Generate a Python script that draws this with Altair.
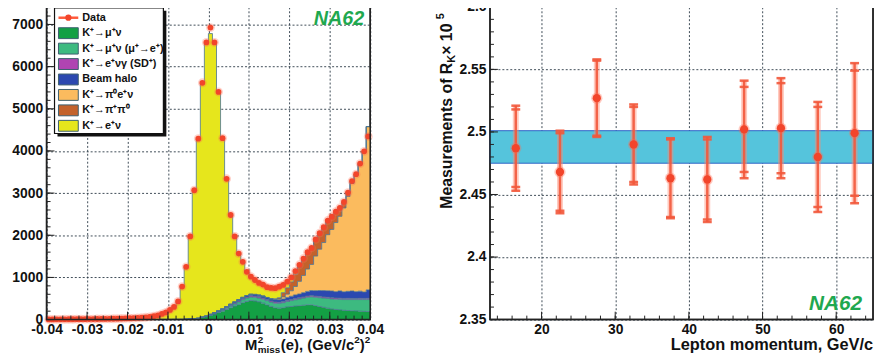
import altair as alt
import pandas as pd

FONT = "Liberation Sans"

# ---------------- left panel: M^2_miss(e) distribution ----------------
X_MIN, X_MAX, BIN_W, N_BINS = -0.040, 0.040, 0.001, 80

data_counts = [5, 5, 6, 6, 7, 8, 8, 9, 10, 10, 12, 12, 14, 15, 17, 18, 20, 22, 25, 28, 32, 36, 42, 48,
               55, 65, 80, 100, 134, 171, 230, 300, 430, 782, 1252, 1972, 3068, 4290, 5617, 6573,
               6925, 6573, 5399, 4303, 3340, 2481, 1972, 1565, 1369, 1134,
               1017, 939, 870, 830, 770, 750, 744, 780, 822, 900, 1000, 1150, 1300, 1448, 1600,
               1700, 1900, 2050, 2190, 2350, 2440, 2560, 2650, 2790, 3012, 3286, 3450, 3700, 3991, 4343]

mu_nu = [0] * 34 + [5, 10, 15, 25, 50, 70, 100, 130, 165, 200, 240, 280, 320, 360, 400, 430,
                    450, 440, 420, 390, 350, 310, 280, 270, 280, 300, 310, 320, 330, 340, 350,
                    350, 330, 310, 290, 270, 250, 240, 230, 220, 215, 210, 205, 200, 195, 190]
mu_nu_mue = [0] * 40 + [5, 10, 15, 20, 30, 40, 50, 60, 70, 80,
                        85, 90, 90, 95, 100, 105, 110, 115, 120, 130, 140, 150, 160, 170, 180,
                        190, 200, 210, 220, 230, 240, 245, 250, 255, 260, 265, 270, 275, 280, 285]
sd_plus = [0] * 38 + [3, 5, 8, 10, 12, 15, 18, 20, 22, 24, 25, 26,
                      28, 27, 29, 28, 26, 28, 30, 27, 28, 29, 28, 30, 27, 28, 29,
                      28, 27, 30, 28, 29, 28, 27, 29, 28, 30, 28, 27, 29, 28, 30]
beam_halo = [3, 2, 4, 3, 3, 4, 2, 3, 4, 3, 3, 4, 3, 2, 4, 3, 3, 4, 3, 3, 4, 3, 4, 3, 4, 4, 5, 4, 5, 5,
             5, 6, 6, 7, 8, 8, 9, 10, 10, 12, 14, 16, 18, 20, 22, 25, 28, 30, 32, 35,
             38, 40, 42, 45, 48, 50, 52, 55, 60, 65, 75, 85, 90, 100, 110,
             120, 130, 140, 150, 155, 160, 150, 170, 155, 165, 175, 160, 170, 150, 200]
pi0_e_nu = [0] * 56 + [10, 20, 50, 80, 130, 200, 300, 410, 530, 620, 820, 980, 1140, 1330,
                       1460, 1640, 1770, 1990, 2250, 2550, 2760, 3010, 3330, 3870]
pi_pi0 = [0] * 56 + [10, 30, 100, 150, 210, 290, 340, 360, 370, 370, 380, 370, 350, 330,
                     300, 250, 200, 140, 90, 55, 25, 15, 7, 3]
e_nu = [2, 3, 2, 3, 4, 4, 5, 6, 6, 7, 9, 9, 11, 12, 13, 15, 17, 19, 22, 25, 28, 33, 38, 44,
        50, 60, 76, 96, 130, 166,
        225, 294, 424, 770, 1240, 1950, 3040, 4250, 5550, 6480, 6657, 6410, 5190, 4050, 3030,
        2120, 1550, 1090, 840, 560,
        415, 340, 290, 270, 245, 250, 255, 262, 180, 150, 110, 80, 55, 40, 30,
        20, 15, 10, 8, 6, 5, 4, 4, 3, 3, 2, 2, 2, 1, 1]

comp_names = ["K⁺→μ⁺ν", "K⁺→μ⁺ν (μ⁺→e⁺)", "K⁺→e⁺νγ (SD⁺)", "Beam halo",
              "K⁺→π⁰e⁺ν", "K⁺→π⁺π⁰", "K⁺→e⁺ν"]
comp_colors = ["#13a044", "#3dba80", "#b044b2", "#2b48b0", "#fbbb5e", "#c3622b", "#e6e61c"]
comp_values = [mu_nu, mu_nu_mue, sd_plus, beam_halo, pi0_e_nu, pi_pi0, e_nu]

x_major_left = [-0.04, -0.03, -0.02, -0.01, 0.0, 0.01, 0.02, 0.03, 0.04]
y_major_left = [0, 1000, 2000, 3000, 4000, 5000, 6000, 7000]

# ---------------- right panel: R_K vs lepton momentum ----------------
lep_p = [16.5, 22.5, 27.5, 32.5, 37.5, 42.5, 47.5, 52.5, 57.5, 62.5]
rk = [2.487, 2.468, 2.527, 2.490, 2.463, 2.462, 2.502, 2.503, 2.480, 2.499]
err_stat = [0.031, 0.031, 0.030, 0.030, 0.031, 0.032, 0.034, 0.036, 0.040, 0.050]
err_tot = [0.034, 0.033, 0.031, 0.032, 0.032, 0.034, 0.039, 0.040, 0.044, 0.056]
band_lo, band_hi = 2.475, 2.501
x_major_right = [20, 30, 40, 50, 60]
y_major_right = [2.35, 2.4, 2.45, 2.5, 2.55, 2.6]

# ---------------- helpers ----------------
CW = {'M': .833, 'e': .556, 'a': .556, 's': .556, 'u': .611, 'r': .389, 'm': .889, 'n': .611,
      't': .333, ' ': .278, 'o': .611, 'f': .333, 'R': .722, 'K': .722, '×': .584, '1': .556,
      '0': .556, '5': .556, '2': .556, 'i': .278, '(': .333, ')': .333, ',': .278, 'G': .778,
      'V': .667, '/': .278, 'c': .556}


def tw(s, size):
    return sum(CW.get(ch, 0.556) for ch in s) * size


one = pd.DataFrame({"k": [0]})


def txt(text, x, y, size, align="left", baseline="alphabetic", angle=0, color="#111111",
        style="normal", weight="bold"):
    kw = dict(text=text, align=align, baseline=baseline, fontSize=size, font=FONT,
              fontWeight=weight, color=color, fontStyle=style)
    if angle:
        kw["angle"] = angle
    return alt.Chart(one).mark_text(**kw).encode(x=alt.value(x), y=alt.value(y))


def box(x1, x2, y1, y2, **kw):
    return alt.Chart(one).mark_rect(**kw).encode(
        x=alt.value(x1), x2=alt.value(x2), y=alt.value(y1), y2=alt.value(y2))


W1, W2, H = 327, 387, 316
GREEN = "#1fa84f"
RED = "#f2452b"

# ---------------- build left panel ----------------
rows = []
cum = [0] * N_BINS
for name, vals in zip(comp_names, comp_values):
    for i in range(N_BINS + 1):
        j = min(i, N_BINS - 1)
        rows.append(dict(x=round(X_MIN + i * BIN_W, 4), lo=cum[j], hi=cum[j] + vals[j], comp=name))
    cum = [c + v for c, v in zip(cum, vals)]
hist = pd.DataFrame(rows)
pts = pd.DataFrame({"x": [round(X_MIN + (i + 0.5) * BIN_W, 5) for i in range(N_BINS)],
                    "hi": data_counts})

xs1 = alt.Scale(domain=[X_MIN, X_MAX], nice=False, zero=False)
ys1 = alt.Scale(domain=[0, 7418], nice=False)

xaxis1 = alt.Axis(values=x_major_left, grid=True, ticks=False, domain=False, labelPadding=3,
                  title=None, labelFlush=False,
                  labelExpr="datum.value == 0 ? '0' : (datum.value < 0 ? '-' + format(-datum.value, '.2f') : format(datum.value, '.2f'))")
yaxis1 = alt.Axis(values=y_major_left, grid=True, ticks=False, domain=False, labelPadding=4,
                  title=None, format="d", labelFlush=False)

X1 = alt.X("x:Q", scale=xs1, axis=xaxis1)
Y1 = alt.Y("hi:Q", scale=ys1, axis=yaxis1)

areas = alt.Chart(hist).mark_area(interpolate="step-after", clip=True).encode(
    x=X1, y=Y1, y2="lo:Q",
    color=alt.Color("comp:N", scale=alt.Scale(domain=comp_names, range=comp_colors), legend=None),
)
outline = alt.Chart(hist).mark_line(interpolate="step-after", color="#4a7390", strokeWidth=0.8,
                                    clip=True).encode(x=X1, y=Y1, detail="comp:N")
glow1 = alt.Chart(pts).mark_circle(size=80, color="#ff6a50", opacity=0.3).encode(x=X1, y=Y1)
dots1 = alt.Chart(pts).mark_circle(size=34, color=RED, opacity=1).encode(x=X1, y=Y1)

# inward ticks
xminor1 = [round(-0.04 + 0.002 * k, 3) for k in range(41)]
yminor1 = [200 * k for k in range(38)]
tick_layers1 = [
    alt.Chart(pd.DataFrame({"x": xminor1})).mark_rule(color="#222", strokeWidth=1).encode(
        x=X1, y=alt.value(H), y2=alt.value(H - 4)),
    alt.Chart(pd.DataFrame({"x": x_major_left})).mark_rule(color="#222", strokeWidth=1).encode(
        x=X1, y=alt.value(H), y2=alt.value(H - 8)),
    alt.Chart(pd.DataFrame({"hi": yminor1})).mark_rule(color="#222", strokeWidth=1).encode(
        y=Y1, x=alt.value(0), x2=alt.value(4)),
    alt.Chart(pd.DataFrame({"hi": y_major_left})).mark_rule(color="#222", strokeWidth=1).encode(
        y=Y1, x=alt.value(0), x2=alt.value(8)),
]
frame1 = box(0, W1, 0, H, fill="transparent", stroke="#222222", strokeWidth=1.5)

# legend box
leg_layers = [box(11, 121, 4, 131, color="#111111"),
              box(8, 118, 1, 128, color="white", stroke="#111111", strokeWidth=1.2)]
leg_labels = ["Data"] + comp_names
for r, lab in enumerate(leg_labels):
    yc = 11 + r * 15.6
    if r == 0:
        leg_layers.append(alt.Chart(one).mark_rule(color="#ff5a3c", strokeWidth=2.5).encode(
            x=alt.value(12), x2=alt.value(32), y=alt.value(yc)))
        leg_layers.append(alt.Chart(one).mark_circle(size=40, color=RED, opacity=1).encode(
            x=alt.value(22), y=alt.value(yc)))
    else:
        leg_layers.append(box(12, 32, yc - 5.5, yc + 5.5, color=comp_colors[r - 1],
                              stroke="#3d6070", strokeWidth=1))
    leg_layers.append(txt(lab, 36, yc, 11, baseline="middle"))

# x-axis title M^2_miss(e), (GeV/c^2)^2
base = 347
wM, wmiss, wmid, w2, wp = tw("M", 15), tw("miss", 10), tw("(e), (GeV/c", 15), tw("2", 10), tw(")", 15)
x0 = W1 - (wM + wmiss + wmid + w2 + wp + w2 + 1)
title1 = [
    txt("M", x0, base, 15),
    txt("2", x0 + wM + 0.5, base - 7, 10),
    txt("miss", x0 + wM + 0.5, base + 3, 10),
    txt("(e), (GeV/c", x0 + wM + wmiss + 1, base, 15),
    txt("2", x0 + wM + wmiss + wmid + 1, base - 7, 10),
    txt(")", x0 + wM + wmiss + wmid + w2 + 1, base, 15),
    txt("2", x0 + wM + wmiss + wmid + w2 + wp + 1, base - 7, 10),
]

left = alt.layer(areas, outline, glow1, dots1, *tick_layers1, frame1, *leg_layers, *title1,
                 txt("NA62", 321, 18, 20, align="right", color=GREEN, style="italic")
                 ).properties(width=W1, height=H)

# ---------------- build right panel ----------------
xs2 = alt.Scale(domain=[13, 65], nice=False, zero=False)
ys2 = alt.Scale(domain=[2.35, 2.6], nice=False, zero=False)
xaxis2 = alt.Axis(values=x_major_right, grid=True, ticks=False, domain=False, labelPadding=3,
                  title=None, format="d", labelFlush=False)
yaxis2 = alt.Axis(values=y_major_right, grid=True, ticks=False, domain=False, labelPadding=4,
                  title=None, format=".3~g", labelFlush=False)
X2 = alt.X("p:Q", scale=xs2, axis=xaxis2)


def Y2(field):
    return alt.Y(f"{field}:Q", scale=ys2, axis=yaxis2)


meas = pd.DataFrame({"p": lep_p, "rk": rk, "es": err_stat, "et": err_tot})
meas["tlo"] = meas["rk"] - meas["et"]
meas["thi"] = meas["rk"] + meas["et"]
meas["slo"] = meas["rk"] - meas["es"]
meas["shi"] = meas["rk"] + meas["es"]

band = alt.Chart(pd.DataFrame({"p": [13], "b": [65], "lo": [band_lo], "hi": [band_hi]})).mark_rect(
    color="#55c4dc", stroke="#2f63c8", strokeWidth=1).encode(
    x=X2, x2="b:Q", y=Y2("lo"), y2="hi:Q")
bars_glow = alt.Chart(meas).mark_rule(color="#ff8a70", strokeWidth=6, opacity=0.45).encode(
    x=X2, y=Y2("tlo"), y2="thi:Q")
bars = alt.Chart(meas).mark_rule(color="#f2583b", strokeWidth=2.5, opacity=0.9).encode(
    x=X2, y=Y2("tlo"), y2="thi:Q")
caps = [alt.Chart(meas).mark_tick(orient="horizontal", size=9, thickness=2.5, color="#f2583b",
                                  opacity=0.9).encode(x=X2, y=Y2(c))
        for c in ["tlo", "thi", "slo", "shi"]]
glow2 = alt.Chart(meas).mark_circle(size=130, color="#ff6a50", opacity=0.35).encode(x=X2, y=Y2("rk"))
dots2 = alt.Chart(meas).mark_circle(size=70, color=RED, opacity=1).encode(x=X2, y=Y2("rk"))

xminor2 = [14 + 2 * k for k in range(26)]
yminor2 = [round(2.35 + 0.01 * k, 2) for k in range(26)]
tick_layers2 = [
    alt.Chart(pd.DataFrame({"p": xminor2})).mark_rule(color="#222", strokeWidth=1).encode(
        x=X2, y=alt.value(H), y2=alt.value(H - 4)),
    alt.Chart(pd.DataFrame({"p": x_major_right})).mark_rule(color="#222", strokeWidth=1).encode(
        x=X2, y=alt.value(H), y2=alt.value(H - 8)),
    alt.Chart(pd.DataFrame({"rk": yminor2})).mark_rule(color="#222", strokeWidth=1).encode(
        y=Y2("rk"), x=alt.value(0), x2=alt.value(4)),
    alt.Chart(pd.DataFrame({"rk": y_major_right})).mark_rule(color="#222", strokeWidth=1).encode(
        y=Y2("rk"), x=alt.value(0), x2=alt.value(8)),
]
frame2 = box(0, W2, 0, H, fill="transparent", stroke="#222222", strokeWidth=1.5)

# y-axis title: Measurements of R_K x 10^5 (rotated)
ytx, yt0 = -43, 204
w_main = tw("Measurements of R", 16)
w_k = tw("K", 11)
w_x10 = tw(" × 10", 16)
title2 = [
    txt("Measurements of R", ytx, yt0, 16, baseline="middle", angle=270),
    txt("K", ytx + 5, yt0 - w_main, 11, baseline="middle", angle=270),
    txt(" × 10", ytx, yt0 - w_main - w_k, 16, baseline="middle", angle=270),
    txt("5", ytx - 6, yt0 - w_main - w_k - w_x10, 11, baseline="middle", angle=270),
    txt("Lepton momentum, GeV/c", W2, 347, 16.5, align="right"),
    txt("NA62", 376, 306, 21, align="right", color=GREEN, style="italic"),
]

right = alt.layer(band, *tick_layers2, frame2, bars_glow, bars, *caps, glow2, dots2, *title2
                  ).properties(width=W2, height=H)

chart = alt.hconcat(left, right, spacing=121, bounds="flush").properties(
    padding={"left": 3, "top": -11, "right": 0, "bottom": 2}
).configure_axis(
    labelFont=FONT, labelFontSize=14, labelFontWeight="bold", labelColor="#111111",
    gridColor="#2a3845", gridDash=[2, 2], gridWidth=1, gridOpacity=0.9
).configure_view(stroke="#222222", strokeWidth=1.5)

chart.save("out.html", embed_options={"renderer": "svg", "actions": False})
